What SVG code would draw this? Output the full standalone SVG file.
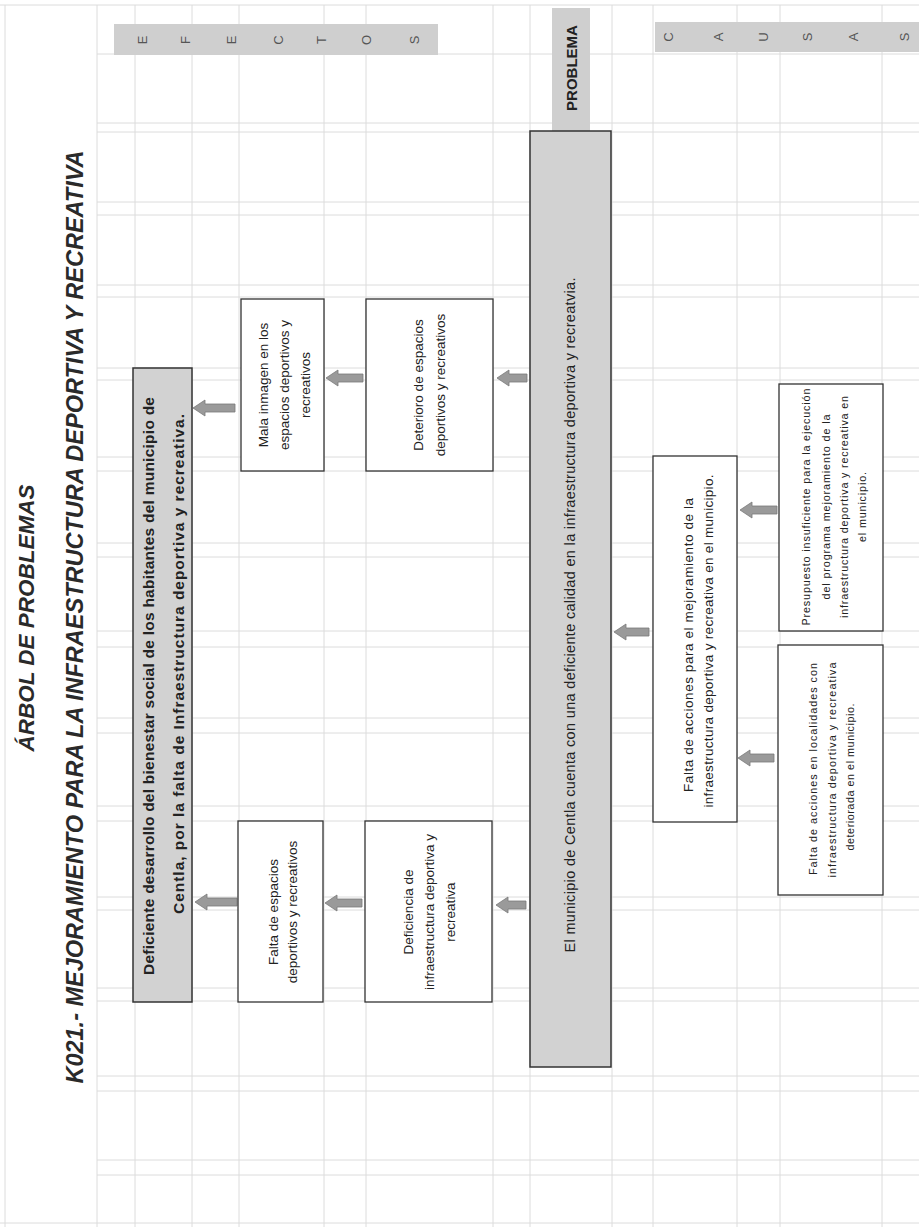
<svg xmlns="http://www.w3.org/2000/svg" width="919" height="1227" viewBox="0 0 919 1227">
<style>
.grid line{stroke:#dcdcdc;stroke-width:1}
.band{fill:#cfcfcf}
.box{fill:#ffffff;stroke:#333;stroke-width:1.3}
.gbox{fill:#d2d2d2;stroke:#333;stroke-width:1.5}
.arr{fill:#9a9a9a;stroke:#7a7a7a;stroke-width:0.8}
text{font-family:"Liberation Sans",Arial,sans-serif;fill:#222;text-anchor:middle;dominant-baseline:central}
.title{font-weight:bold;font-style:italic;fill:#2a2a2a}
.lt{font-size:13px;fill:#555}
.t14{font-size:13.5px}
.t11{font-size:10.8px}
.bold{font-weight:bold}
</style>
<rect width="919" height="1227" fill="#ffffff"/>
<g class="grid">
<line x1="5" y1="5" x2="5" y2="1227"/>
<line x1="97" y1="5" x2="97" y2="1227"/>
<line x1="135" y1="5" x2="135" y2="1227"/>
<line x1="192" y1="5" x2="192" y2="1227"/>
<line x1="239" y1="5" x2="239" y2="1227"/>
<line x1="324" y1="5" x2="324" y2="1227"/>
<line x1="366" y1="5" x2="366" y2="1227"/>
<line x1="493" y1="5" x2="493" y2="1227"/>
<line x1="530" y1="5" x2="530" y2="1227"/>
<line x1="612" y1="5" x2="612" y2="1227"/>
<line x1="653" y1="5" x2="653" y2="1227"/>
<line x1="737" y1="5" x2="737" y2="1227"/>
<line x1="780" y1="5" x2="780" y2="1227"/>
<line x1="882" y1="5" x2="882" y2="1227"/>
<line x1="0" y1="5" x2="919" y2="5"/>
<line x1="97" y1="54" x2="919" y2="54"/>
<line x1="97" y1="123" x2="919" y2="123"/>
<line x1="97" y1="132" x2="919" y2="132"/>
<line x1="97" y1="202" x2="919" y2="202"/>
<line x1="97" y1="215" x2="919" y2="215"/>
<line x1="97" y1="285" x2="919" y2="285"/>
<line x1="97" y1="297" x2="919" y2="297"/>
<line x1="97" y1="368" x2="919" y2="368"/>
<line x1="97" y1="380" x2="919" y2="380"/>
<line x1="97" y1="457" x2="919" y2="457"/>
<line x1="97" y1="471" x2="919" y2="471"/>
<line x1="97" y1="543" x2="919" y2="543"/>
<line x1="97" y1="557" x2="919" y2="557"/>
<line x1="97" y1="631" x2="919" y2="631"/>
<line x1="97" y1="647" x2="919" y2="647"/>
<line x1="97" y1="718" x2="919" y2="718"/>
<line x1="97" y1="733" x2="919" y2="733"/>
<line x1="97" y1="806" x2="919" y2="806"/>
<line x1="97" y1="821" x2="919" y2="821"/>
<line x1="97" y1="897" x2="919" y2="897"/>
<line x1="97" y1="910" x2="919" y2="910"/>
<line x1="97" y1="988" x2="919" y2="988"/>
<line x1="97" y1="1001" x2="919" y2="1001"/>
<line x1="97" y1="1076" x2="919" y2="1076"/>
<line x1="97" y1="1091" x2="919" y2="1091"/>
<line x1="97" y1="1160" x2="919" y2="1160"/>
<line x1="97" y1="1175" x2="919" y2="1175"/>
<line x1="0" y1="1223" x2="919" y2="1223"/>
</g>

<g id="titles">
<text class="title" font-size="22.5" transform="translate(26,618) rotate(-90)">ÁRBOL DE PROBLEMAS</text>
<text class="title" font-size="23.5" transform="translate(75,617) rotate(-90)">K021.- MEJORAMIENTO PARA LA INFRAESTRUCTURA DEPORTIVA Y RECREATIVA</text>
</g>

<g id="label-efectos">
<rect class="band" x="114" y="24" width="324" height="31"/>
<text class="lt" transform="translate(142,40) rotate(-90)">E</text>
<text class="lt" transform="translate(185,40) rotate(-90)">F</text>
<text class="lt" transform="translate(231,40) rotate(-90)">E</text>
<text class="lt" transform="translate(278,40) rotate(-90)">C</text>
<text class="lt" transform="translate(321,40) rotate(-90)">T</text>
<text class="lt" transform="translate(366,40) rotate(-90)">O</text>
<text class="lt" transform="translate(414,40) rotate(-90)">S</text>
</g>

<g id="label-problema">
<rect class="band" x="552" y="8" width="38" height="123"/>
<text class="bold" font-size="15" fill="#333" transform="translate(571,68) rotate(-90)">PROBLEMA</text>
</g>

<g id="label-causas">
<rect class="band" x="655" y="22" width="264" height="30"/>
<text class="lt" transform="translate(668,37) rotate(-90)">C</text>
<text class="lt" transform="translate(718,37) rotate(-90)">A</text>
<text class="lt" transform="translate(763,37) rotate(-90)">U</text>
<text class="lt" transform="translate(807,37) rotate(-90)">S</text>
<text class="lt" transform="translate(853,37) rotate(-90)">A</text>
<text class="lt" transform="translate(904,37) rotate(-90)">S</text>
</g>

<g id="connectors">
<path class="arr" d="M193,408 L205,400 L205,404 L235,404 L235,412 L205,412 L205,416 Z"/>
<path class="arr" d="M195,902 L207,894 L207,898 L237,898 L237,906 L207,906 L207,910 Z"/>
<path class="arr" d="M326,378 L338,370 L338,374 L363,374 L363,382 L338,382 L338,386 Z"/>
<path class="arr" d="M325,903 L337,895 L337,899 L362,899 L362,907 L337,907 L337,911 Z"/>
<path class="arr" d="M497,378 L509,370 L509,374 L527,374 L527,382 L509,382 L509,386 Z"/>
<path class="arr" d="M496,905 L508,897 L508,901 L526,901 L526,909 L508,909 L508,913 Z"/>
<path class="arr" d="M614,632 L626,624 L626,628 L649,628 L649,636 L626,636 L626,640 Z"/>
<path class="arr" d="M740,510 L752,502 L752,506 L777,506 L777,514 L752,514 L752,518 Z"/>
<path class="arr" d="M738,758 L750,750 L750,754 L774,754 L774,762 L750,762 L750,766 Z"/>
</g>

<g id="efecto-principal">
<rect class="gbox" x="133" y="368" width="59" height="634"/>
<text class="bold" font-size="15.5" transform="translate(148,686) rotate(-90)" textLength="578">Deficiente desarrollo del bienestar social de los habitantes del municipio de</text>
<text class="bold" font-size="15.5" transform="translate(178,664) rotate(-90)" textLength="500">Centla, por la falta de Infraestructura deportiva y recreativa.</text>
</g>

<g id="efecto-mala-imagen">
<rect class="box" x="241" y="299" width="83" height="172"/>
<text class="t14" transform="translate(263,385) rotate(-90)">Mala inmagen en los</text>
<text class="t14" transform="translate(284,385) rotate(-90)">espacios deportivos y</text>
<text class="t14" transform="translate(305,385) rotate(-90)">recreativos</text>
</g>

<g id="efecto-falta-espacios">
<rect class="box" x="238" y="821" width="85" height="181"/>
<text class="t14" transform="translate(273,912) rotate(-90)">Falta de espacios</text>
<text class="t14" transform="translate(292,912) rotate(-90)">deportivos y recreativos</text>
</g>

<g id="efecto-deterioro">
<rect class="box" x="366" y="299" width="127" height="172"/>
<text class="t14" transform="translate(418,385) rotate(-90)">Deterioro de espacios</text>
<text class="t14" transform="translate(440,385) rotate(-90)">deportivos y recreativos</text>
</g>

<g id="efecto-deficiencia">
<rect class="box" x="365" y="821" width="127" height="181"/>
<text class="t14" transform="translate(408,912) rotate(-90)">Deficiencia de</text>
<text class="t14" transform="translate(429,912) rotate(-90)">infraestructura deportiva y</text>
<text class="t14" transform="translate(450,912) rotate(-90)">recreativa</text>
</g>

<g id="problema">
<rect class="gbox" x="530" y="131" width="81" height="936"/>
<text font-size="14.5" transform="translate(570,615) rotate(-90)" textLength="675">El municipio de Centla cuenta con una deficiente calidad en la infraestructura deportiva y recreatvia.</text>
</g>

<g id="causa-falta-acciones">
<rect class="box" x="653" y="456" width="84" height="366"/>
<text class="t14" transform="translate(688,645) rotate(-90)" textLength="294">Falta de acciones para el mejoramiento de la</text>
<text class="t14" transform="translate(708,641) rotate(-90)" textLength="333">infraestructura deportiva y recreativa en el municipio.</text>
</g>

<g id="causa-presupuesto">
<rect class="box" x="779" y="384" width="104" height="247"/>
<text class="t11" transform="translate(806,507) rotate(-90)" textLength="237">Presupuesto insuficiente para la ejecución</text>
<text class="t11" transform="translate(826,507) rotate(-90)" textLength="185">del programa mejoramiento de la</text>
<text class="t11" transform="translate(844,507) rotate(-90)" textLength="222">infraestructura deportiva y recreativa en</text>
<text class="t11" transform="translate(862,507) rotate(-90)" textLength="70">el municipio.</text>
</g>

<g id="causa-localidades">
<rect class="box" x="778" y="645" width="105" height="250"/>
<text class="t11" transform="translate(813,769) rotate(-90)" textLength="212">Falta de acciones en localidades con</text>
<text class="t11" transform="translate(832,770) rotate(-90)" textLength="215">infraestructura deportiva y recreativa</text>
<text class="t11" transform="translate(850,777) rotate(-90)" textLength="147">deteriorada en el municipio.</text>
</g>
</svg>
